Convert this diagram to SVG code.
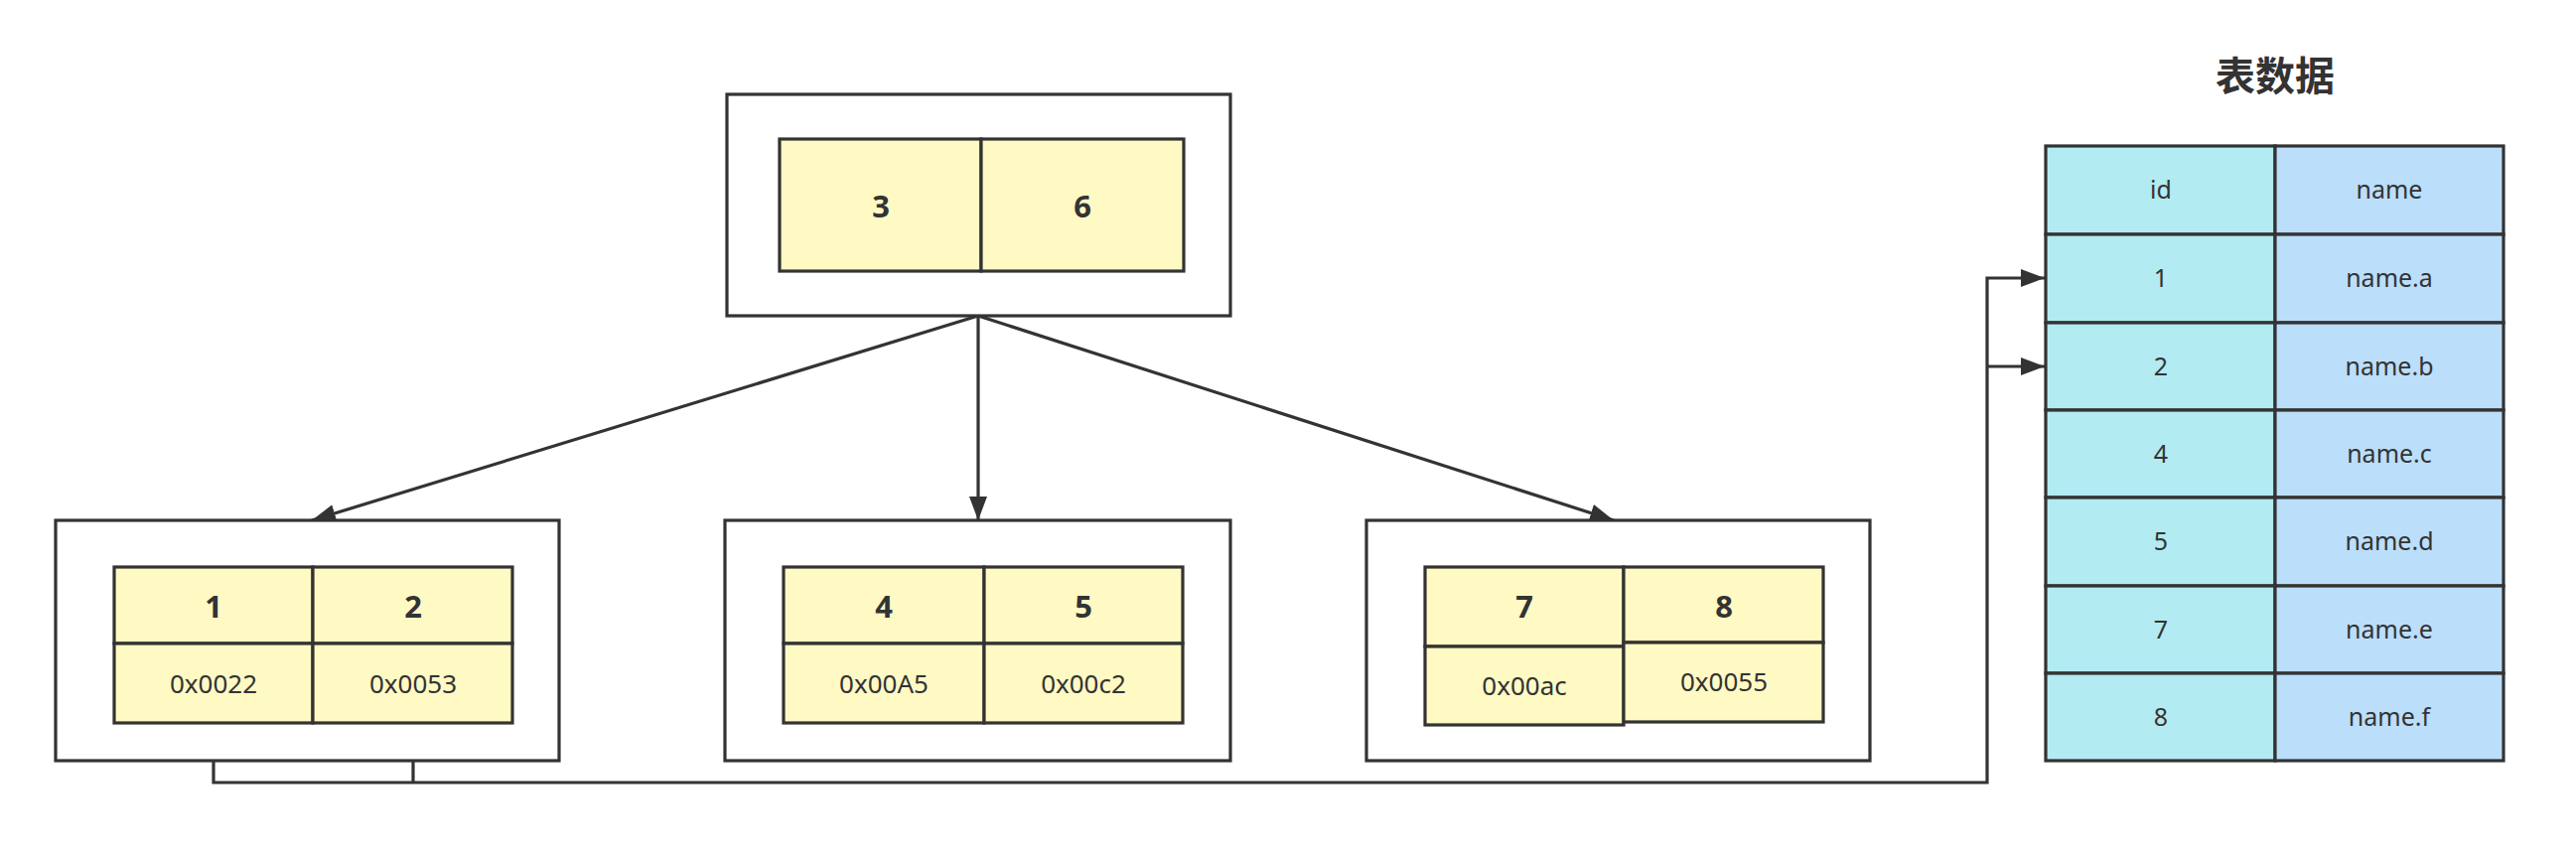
<svg xmlns="http://www.w3.org/2000/svg" width="2594" height="862" viewBox="0 0 2594 862">
  <style>
    .box { fill: #ffffff; stroke: #333333; stroke-width: 3.2; }
    .cell { fill: #FFF9C4; stroke: #333333; stroke-width: 3.2; }
    .cid { fill: #B2EBF2; stroke: #333333; stroke-width: 3.2; }
    .cname { fill: #BBDEFB; stroke: #333333; stroke-width: 3.2; }
    .key { font-family: "Noto Sans", "Open Sans", sans-serif; font-weight: bold; font-size: 31px; fill: #333333; text-anchor: middle; }
    .addr { font-family: "Noto Sans", "Open Sans", sans-serif; font-size: 26px; fill: #333333; text-anchor: middle; }
    .tt { font-family: "Noto Sans", "Open Sans", sans-serif; font-size: 25px; fill: #333333; text-anchor: middle; }
    .title { font-family: "Noto Sans CJK SC", "Noto Sans", sans-serif; font-weight: bold; font-size: 40px; fill: #333333; text-anchor: middle; }
    .edge { fill: none; stroke: #333333; stroke-width: 3.2; }
  </style>
  <defs>
    <marker id="arr" markerUnits="userSpaceOnUse" markerWidth="26" markerHeight="18" refX="24" refY="9" orient="auto">
      <path d="M0,0 L24,9 L0,18 Z" fill="#333333"/>
    </marker>
  </defs>
  <rect width="2594" height="862" fill="#ffffff"/>

  <g id="connectors">
    <line class="edge" x1="985" y1="318" x2="314" y2="524" marker-end="url(#arr)"/>
    <line class="edge" x1="985" y1="318" x2="985" y2="524" marker-end="url(#arr)"/>
    <line class="edge" x1="985" y1="318" x2="1625" y2="524" marker-end="url(#arr)"/>
    <path class="edge" d="M215,730 V788 H2001 V280 H2059" marker-end="url(#arr)"/>
    <path class="edge" d="M416,730 V788"/>
    <path class="edge" d="M2001,369 H2059" marker-end="url(#arr)"/>
  </g>

  <g id="root">
    <rect class="box" x="732" y="95" width="507" height="223"/>
    <rect class="cell" x="785" y="140" width="203" height="133"/>
    <rect class="cell" x="988" y="140" width="204" height="133"/>
    <text class="key" x="887" y="219">3</text>
    <text class="key" x="1090" y="219">6</text>
  </g>

  <g id="leaf-left">
    <rect class="box" x="56" y="524" width="507" height="242"/>
    <rect class="cell" x="115" y="571" width="200" height="77"/>
    <rect class="cell" x="315" y="571" width="201" height="77"/>
    <rect class="cell" x="115" y="648" width="200" height="80"/>
    <rect class="cell" x="315" y="648" width="201" height="80"/>
    <text class="key" x="215" y="622">1</text>
    <text class="key" x="416" y="622">2</text>
    <text class="addr" x="215" y="698">0x0022</text>
    <text class="addr" x="416" y="698">0x0053</text>
  </g>

  <g id="leaf-middle">
    <rect class="box" x="730" y="524" width="509" height="242"/>
    <rect class="cell" x="789" y="571" width="202" height="77"/>
    <rect class="cell" x="991" y="571" width="200" height="77"/>
    <rect class="cell" x="789" y="648" width="202" height="80"/>
    <rect class="cell" x="991" y="648" width="200" height="80"/>
    <text class="key" x="890" y="622">4</text>
    <text class="key" x="1091" y="622">5</text>
    <text class="addr" x="890" y="698">0x00A5</text>
    <text class="addr" x="1091" y="698">0x00c2</text>
  </g>

  <g id="leaf-right">
    <rect class="box" x="1376" y="524" width="507" height="242"/>
    <rect class="cell" x="1435" y="571" width="200" height="80"/>
    <rect class="cell" x="1635" y="571" width="201" height="76"/>
    <rect class="cell" x="1435" y="651" width="200" height="79"/>
    <rect class="cell" x="1635" y="647" width="201" height="80"/>
    <text class="key" x="1535" y="622">7</text>
    <text class="key" x="1736" y="622">8</text>
    <text class="addr" x="1535" y="700">0x00ac</text>
    <text class="addr" x="1736" y="696">0x0055</text>
  </g>

  <g id="title">
    <text class="title" x="2291" y="91">表数据</text>
  </g>

  <g id="table">
    <rect class="cid" x="2060" y="147" width="231" height="89"/>
    <rect class="cname" x="2291" y="147" width="230" height="89"/>
    <rect class="cid" x="2060" y="236" width="231" height="89"/>
    <rect class="cname" x="2291" y="236" width="230" height="89"/>
    <rect class="cid" x="2060" y="325" width="231" height="88"/>
    <rect class="cname" x="2291" y="325" width="230" height="88"/>
    <rect class="cid" x="2060" y="413" width="231" height="88"/>
    <rect class="cname" x="2291" y="413" width="230" height="88"/>
    <rect class="cid" x="2060" y="501" width="231" height="89"/>
    <rect class="cname" x="2291" y="501" width="230" height="89"/>
    <rect class="cid" x="2060" y="590" width="231" height="88"/>
    <rect class="cname" x="2291" y="590" width="230" height="88"/>
    <rect class="cid" x="2060" y="678" width="231" height="88"/>
    <rect class="cname" x="2291" y="678" width="230" height="88"/>
    <text class="tt" x="2176" y="200">id</text>
    <text class="tt" x="2406" y="200">name</text>
    <text class="tt" x="2176" y="289">1</text>
    <text class="tt" x="2406" y="289">name.a</text>
    <text class="tt" x="2176" y="378">2</text>
    <text class="tt" x="2406" y="378">name.b</text>
    <text class="tt" x="2176" y="466">4</text>
    <text class="tt" x="2406" y="466">name.c</text>
    <text class="tt" x="2176" y="554">5</text>
    <text class="tt" x="2406" y="554">name.d</text>
    <text class="tt" x="2176" y="643">7</text>
    <text class="tt" x="2406" y="643">name.e</text>
    <text class="tt" x="2176" y="731">8</text>
    <text class="tt" x="2406" y="731">name.f</text>
  </g>
</svg>
